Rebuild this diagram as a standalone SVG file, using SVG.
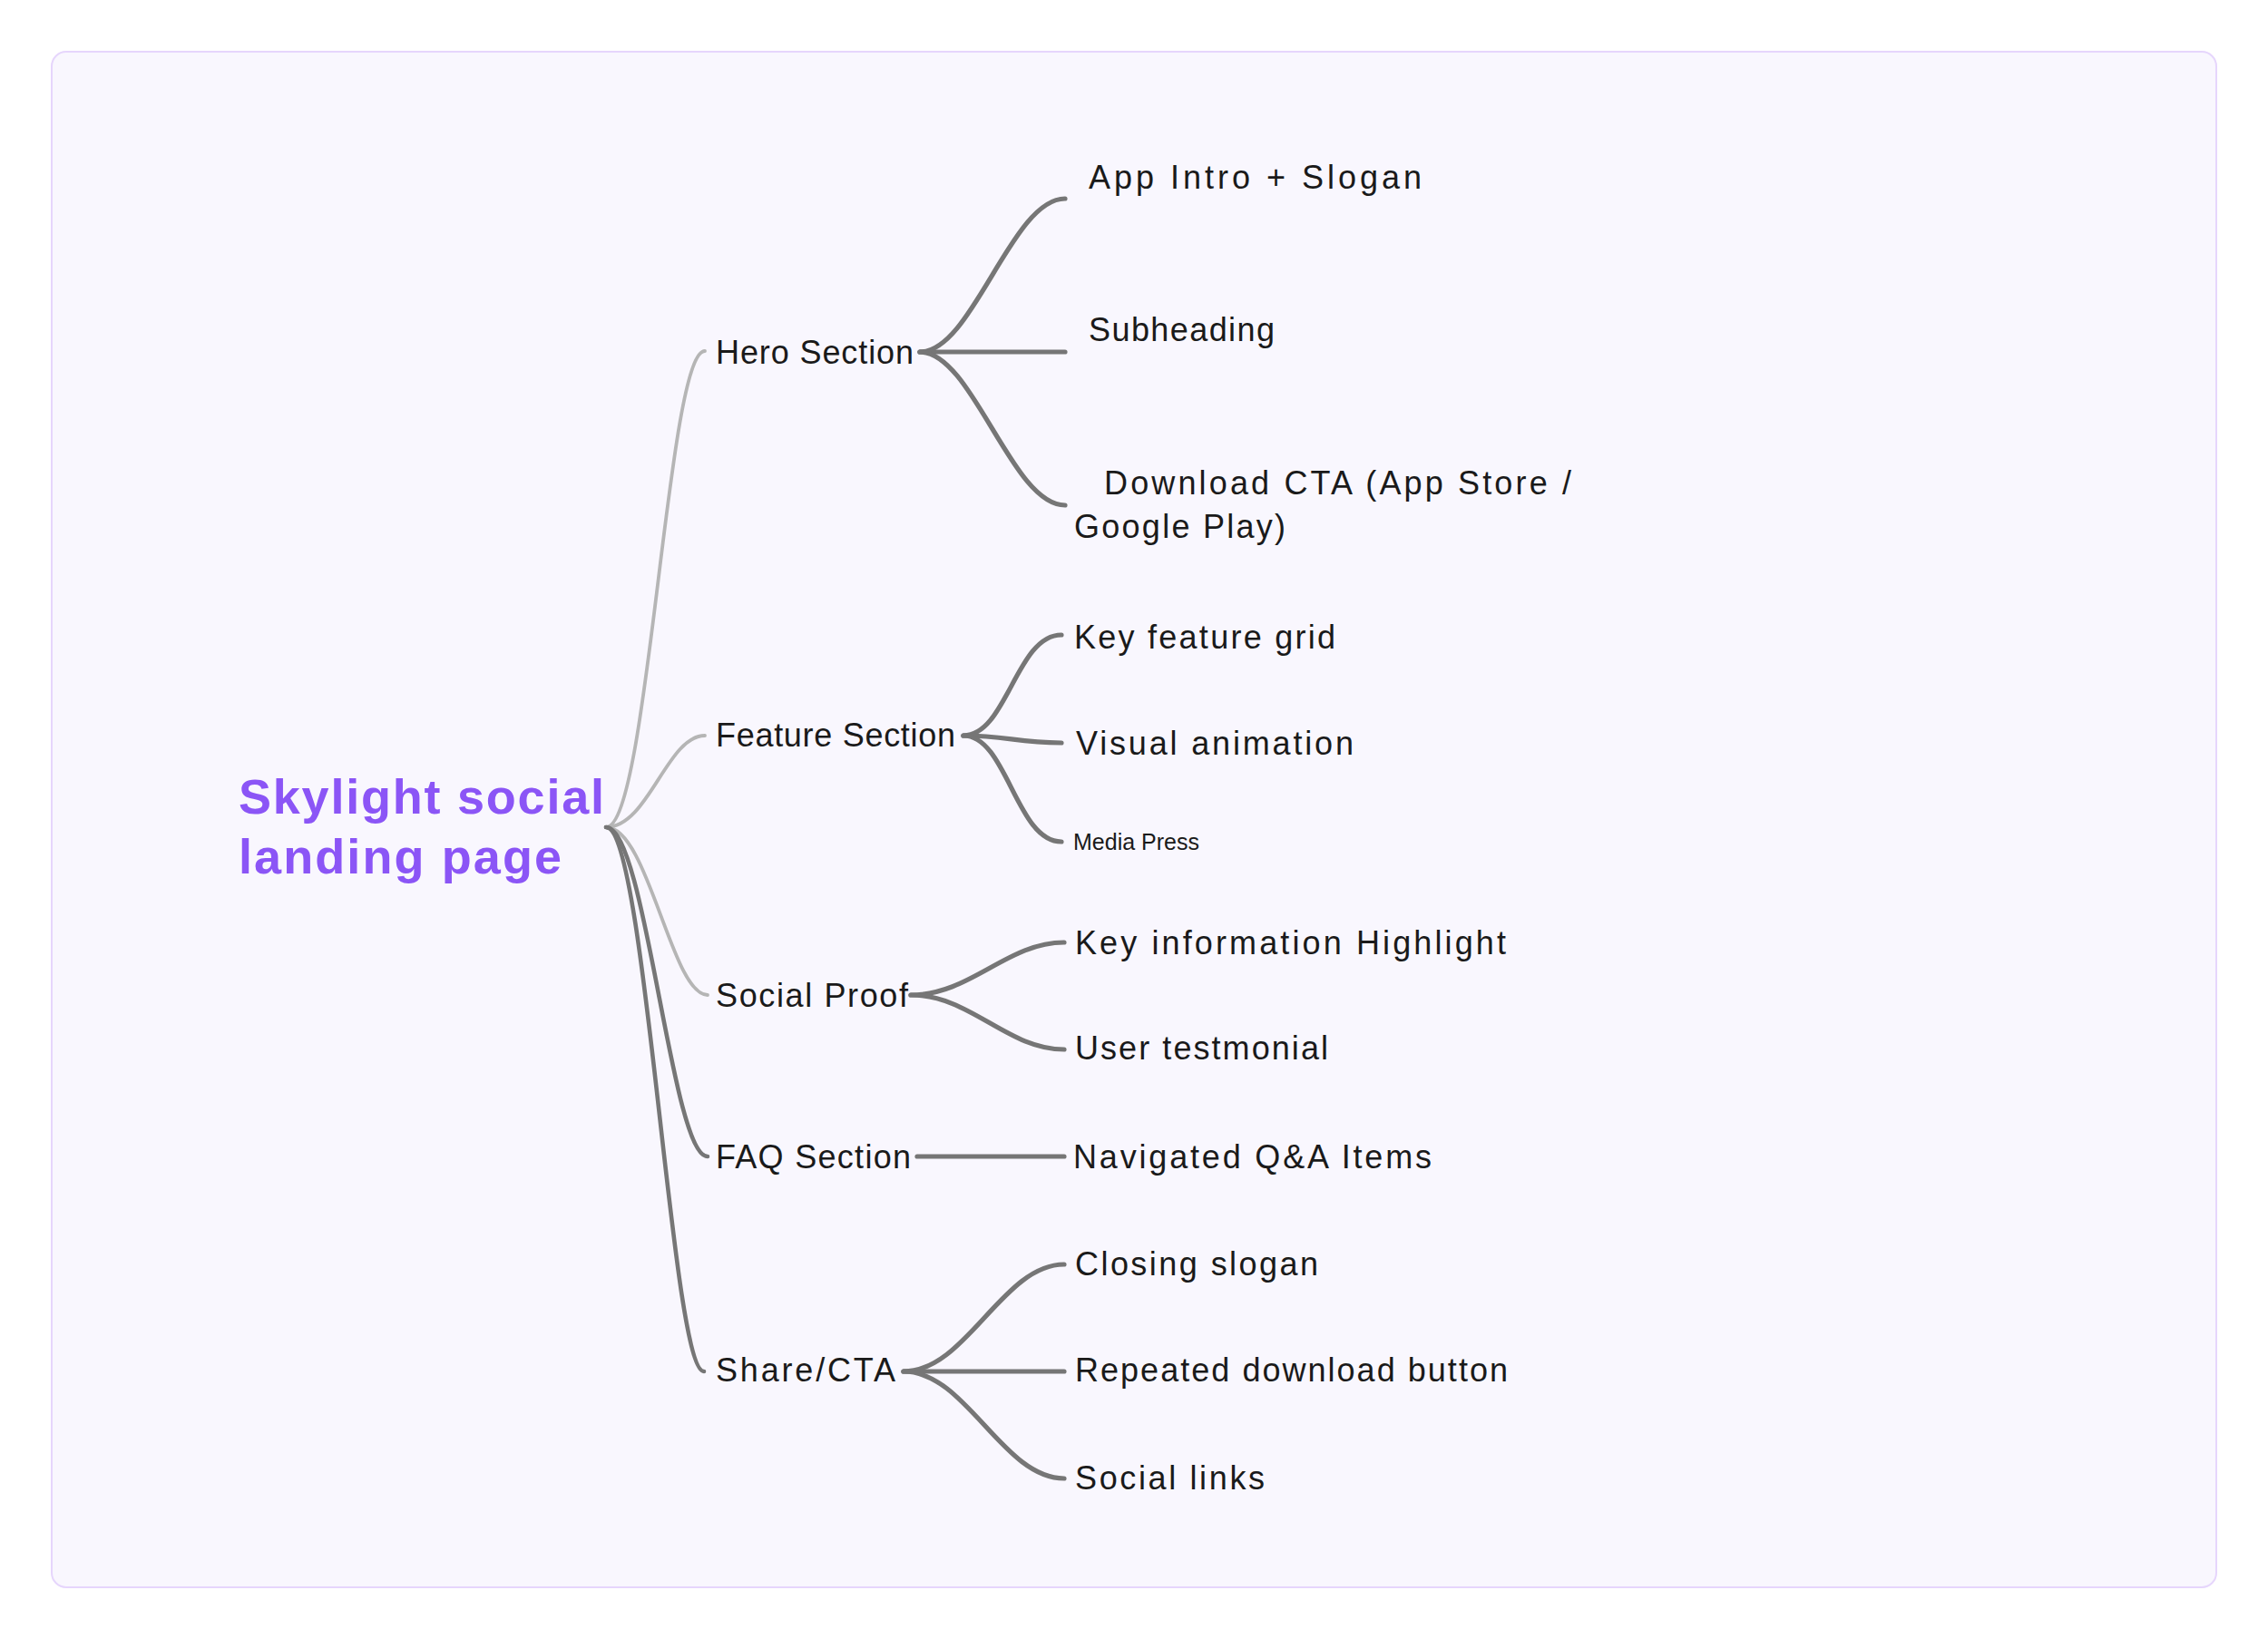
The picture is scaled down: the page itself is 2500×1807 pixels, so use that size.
<svg xmlns="http://www.w3.org/2000/svg" width="2500" height="1807" viewBox="0 0 2500 1807">
<style>
.lbl{font-family:"Liberation Sans","DejaVu Sans",sans-serif;font-size:36px;fill:#1a1a1a}
.sm{font-size:25px}
.root{font-family:"Liberation Sans","DejaVu Sans",sans-serif;font-size:54px;font-weight:bold;fill:#8b55f6}
.c1{fill:none;stroke:#b5b5b5;stroke-width:3.8;stroke-linecap:round}
.c1d{fill:none;stroke:#767676;stroke-width:4.6;stroke-linecap:round}
.c2{fill:none;stroke:#767676;stroke-width:5.2;stroke-linecap:round}
</style>
<rect x="0" y="0" width="2500" height="1807" fill="#ffffff"/>
<rect x="57" y="57" width="2386" height="1693" rx="16" fill="#f9f7fe" stroke="#e6d6fc" stroke-width="2"/>
<g id="connectors">
<path class="c1" d="M668,912 C715,912 735,387 777,387"/>
<path class="c1" d="M668,912 C715,912 735,811 777,811"/>
<path class="c1" d="M668,912 C715,912 740,1097 780,1097"/>
<path class="c1d" d="M668,912 C712,912 740,1275 780,1275"/>
<path class="c1d" d="M668,912 C712,912 740,1512 776,1512"/>
<path class="c2" d="M1014,388 C1072,388 1115,219 1174,219"/>
<path class="c2" d="M1014,388 L1174,388"/>
<path class="c2" d="M1014,388 C1072,388 1115,557 1174,557"/>
<path class="c2" d="M1062,811 C1110,811 1120,700 1170,700"/>
<path class="c2" d="M1062,811 C1110,811 1120,819 1170,819"/>
<path class="c2" d="M1062,811 C1110,811 1120,928 1170,928"/>
<path class="c2" d="M1004,1097 C1070,1097 1110,1039 1173,1039"/>
<path class="c2" d="M1004,1097 C1070,1097 1110,1157 1173,1157"/>
<path class="c2" d="M1011,1275 L1173,1275"/>
<path class="c2" d="M996,1512 C1065,1512 1105,1394 1173,1394"/>
<path class="c2" d="M996,1512 L1173,1512"/>
<path class="c2" d="M996,1512 C1065,1512 1105,1630 1173,1630"/>
</g>
<g id="root"><text class="root" x="263" y="897" textLength="403">Skylight social</text><text class="root" x="263" y="963" textLength="356">landing page</text></g>
<g id="hero"><text class="lbl" x="789" y="401" textLength="218">Hero Section</text></g>
<g id="feature"><text class="lbl" x="789" y="823" textLength="264">Feature Section</text></g>
<g id="social-proof"><text class="lbl" x="789" y="1110" textLength="212">Social Proof</text></g>
<g id="faq"><text class="lbl" x="789" y="1288" textLength="215">FAQ Section</text></g>
<g id="share"><text class="lbl" x="789" y="1523" textLength="198">Share/CTA</text></g>
<g id="app-intro"><text class="lbl" x="1200" y="208" textLength="367">App Intro + Slogan</text></g>
<g id="subheading"><text class="lbl" x="1200" y="376" textLength="205">Subheading</text></g>
<g id="download-cta"><text class="lbl" x="1217" y="545" textLength="515">Download CTA (App Store /</text><text class="lbl" x="1184" y="593" textLength="233">Google Play)</text></g>
<g id="key-feature"><text class="lbl" x="1184" y="715" textLength="288">Key feature grid</text></g>
<g id="visual-animation"><text class="lbl" x="1186" y="832" textLength="306">Visual animation</text></g>
<g id="media-press"><text class="lbl sm" x="1183" y="937" textLength="139">Media Press</text></g>
<g id="key-info"><text class="lbl" x="1185" y="1052" textLength="475">Key information Highlight</text></g>
<g id="user-testimonial"><text class="lbl" x="1185" y="1168" textLength="279">User testmonial</text></g>
<g id="navigated-qa"><text class="lbl" x="1183" y="1288" textLength="395">Navigated Q&amp;A Items</text></g>
<g id="closing-slogan"><text class="lbl" x="1185" y="1406" textLength="268">Closing slogan</text></g>
<g id="repeated-download"><text class="lbl" x="1185" y="1523" textLength="477">Repeated download button</text></g>
<g id="social-links"><text class="lbl" x="1185" y="1642" textLength="209">Social links</text></g>
</svg>
